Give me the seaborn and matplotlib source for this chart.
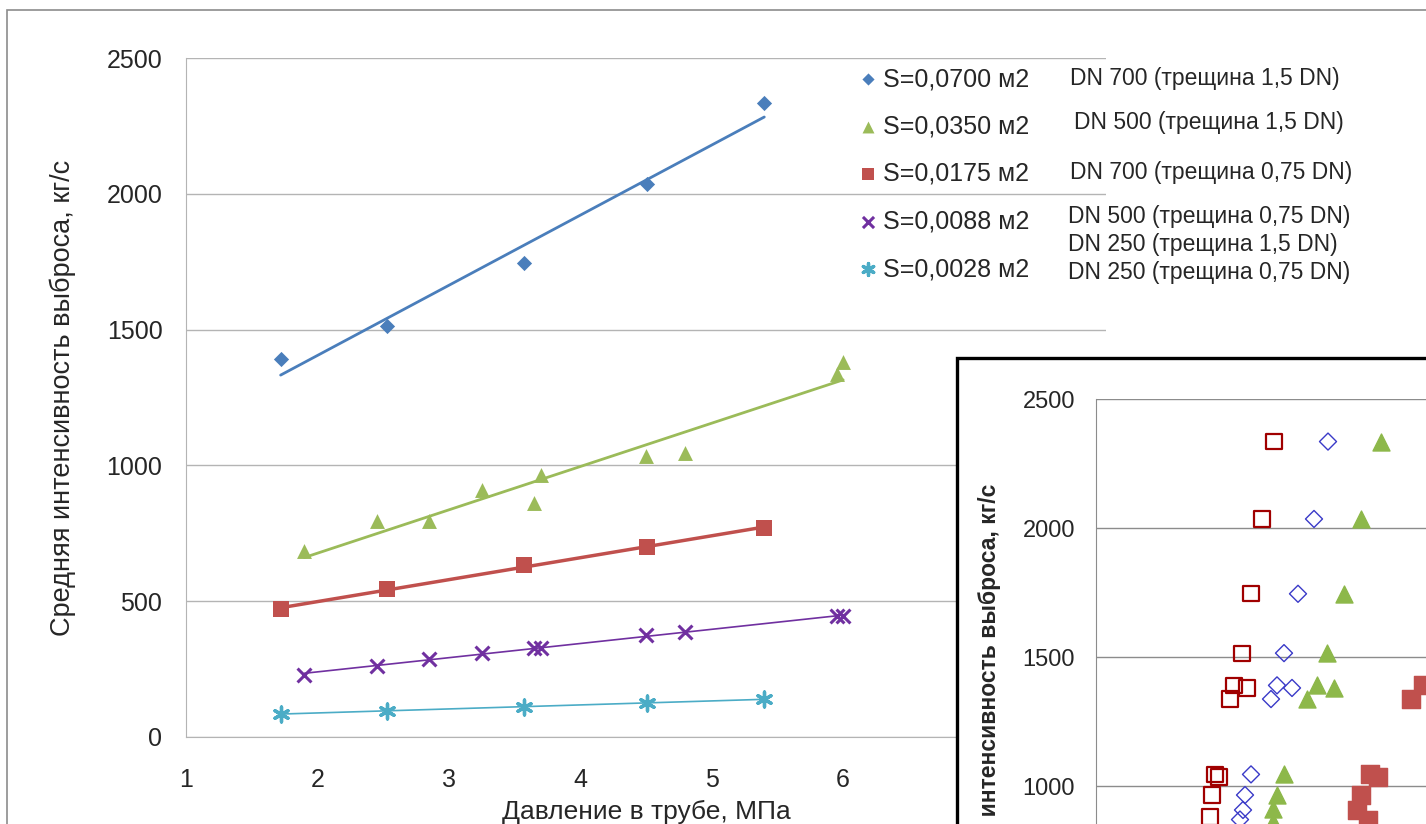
import matplotlib
matplotlib.use("Agg")
import matplotlib.pyplot as plt
import seaborn as sns
from matplotlib.patches import Rectangle

# ---- main chart data: pressure (MPa) vs mean release rate (kg/s) ----
p_s0700 = [1.72, 2.53, 3.57, 4.51, 5.40]
q_s0700 = [1390, 1515, 1745, 2035, 2335]
p_s0350 = [1.90, 2.45, 2.85, 3.25, 3.65, 3.70, 4.50, 4.80, 5.95, 6.00]
q_s0350 = [685, 795, 795, 910, 860, 965, 1035, 1045, 1337, 1380]
p_s0175 = [1.72, 2.53, 3.57, 4.51, 5.40]
q_s0175 = [470, 545, 632, 700, 770]
p_s0088 = [1.90, 2.45, 2.85, 3.25, 3.65, 3.70, 4.50, 4.80, 5.95, 6.00]
q_s0088 = [228, 262, 287, 310, 328, 328, 375, 385, 445, 445]
p_s0028 = [1.72, 2.53, 3.57, 4.51, 5.40]
q_s0028 = [85, 97, 110, 125, 140]

legend_labels = ["S=0,0700 м2", "S=0,0350 м2", "S=0,0175 м2", "S=0,0088 м2", "S=0,0028 м2"]
dn_labels = ["DN 700 (трещина 1,5 DN)", "DN 500 (трещина 1,5 DN)", "DN 700 (трещина 0,75 DN)",
             "DN 500 (трещина 0,75 DN)", "DN 250 (трещина 1,5 DN)", "DN 250 (трещина 0,75 DN)"]

# ---- inset chart data (pasted second chart, partly cut off) ----
ix_open_sq = [1.78, 1.66, 1.55, 1.46, 1.38, 1.51, 1.34, 1.19, 1.23, 1.16, 1.14]
iy_open_sq = [2335, 2035, 1745, 1515, 1390, 1380, 1337, 1045, 1035, 965, 880]
ix_diamond = [2.32, 2.18, 2.02, 1.88, 1.81, 1.96, 1.75, 1.55, 1.49, 1.47, 1.44]
iy_diamond = [2335, 2035, 1745, 1515, 1390, 1380, 1337, 1045, 965, 907, 870]
ix_triangle = [2.85, 2.65, 2.48, 2.31, 2.21, 2.38, 2.11, 1.88, 1.81, 1.77, 1.77]
iy_triangle = [2335, 2035, 1745, 1515, 1390, 1380, 1337, 1045, 965, 910, 860]
ix_fill_sq = [3.15, 3.27, 2.74, 2.82, 2.65, 2.61, 2.72]
iy_fill_sq = [1337, 1390, 1045, 1035, 965, 907, 870]

W, H = 1426, 824

def fx(px):
    return px / W

def fy(py):
    return 1 - py / H

sns.set_style("white")
plt.rcParams["font.family"] = ["Liberation Sans", "DejaVu Sans"]

fig = plt.figure(figsize=(W / 100, H / 100), dpi=100)

# outer chart border (only top and left edges fall inside the image)
fig.add_artist(Rectangle((fx(7), -0.1), 1.2, fy(10) + 0.1, transform=fig.transFigure,
                         fill=False, edgecolor="#8c8c8c", lw=1.2, zorder=0))

ax = fig.add_axes([fx(186), fy(737), fx(1106) - fx(186), fy(58) - fy(737)])

series = [
    (p_s0700, q_s0700, "#4A7EBB", "D", 60, 2.0, 0),
    (p_s0350, q_s0350, "#9BBB59", "^", 115, 2.0, 0),
    (p_s0175, q_s0175, "#C0504D", "s", 125, 2.5, 0),
    (p_s0088, q_s0088, "#7030A0", "x", 100, 1.2, 2.2),
    (p_s0028, q_s0028, "#4BACC6", (6, 2, 0), 115, 1.2, 2.4),
]
for (p, q, c, m, s, lw, mlw), lab in zip(series, legend_labels):
    sns.regplot(x=p, y=q, ax=ax, scatter=False, ci=None, color=c,
                line_kws={"lw": lw})
    sns.scatterplot(x=p, y=q, ax=ax, marker=m, s=s, color=c, edgecolor=c if mlw == 0 else None,
                    linewidth=mlw, label=lab, zorder=3)

ax.set_xlim(1, 8)
ax.set_ylim(0, 2500)
ax.set_xticks(range(1, 7))  # 7 and 8 sit under the pasted inset
ax.set_yticks(range(0, 2501, 500))
ax.yaxis.grid(True, color="#b4b4b4", lw=1.0)
for side in ["top", "right"]:
    ax.spines[side].set_visible(False)
for side in ["left", "bottom"]:
    ax.spines[side].set_color("#b4b4b4")
ax.tick_params(axis="x", length=8, width=1, color="#b4b4b4", direction="out", pad=14, labelsize=18)
ax.tick_params(axis="y", length=8, width=1, color="#b4b4b4", direction="out", pad=9, labelsize=18)
ax.set_xlabel("Давление в трубе, МПа", fontsize=19, labelpad=6)
ax.set_ylabel("Средняя интенсивность выброса, кг/с", fontsize=19.5, labelpad=22)

ax.legend(loc="upper left", bbox_to_anchor=(fx(858), fy(67)), bbox_transform=fig.transFigure,
          frameon=False, fontsize=18, borderpad=0, borderaxespad=0, handlelength=0.8,
          handletextpad=0.2, labelspacing=0.94, markerscale=0.8)

dn_pos = [(1070, 78), (1074, 122), (1070, 172), (1068, 217), (1068, 245), (1068, 273)]
for (x, y), t in zip(dn_pos, dn_labels):
    fig.text(fx(x), fy(y), t, fontsize=16.5, ha="left", va="center")

# ---- inset chart: white frame with a black border ----
fig.add_artist(Rectangle((fx(957), -0.2), 0.6, fy(358) + 0.2, transform=fig.transFigure,
                         facecolor="white", edgecolor="black", lw=2.4, zorder=5))

ax2 = fig.add_axes([fx(1096), fy(1044), 500 / W, 645 / H], zorder=6)
ax2.set_facecolor("none")
sns.scatterplot(x=ix_open_sq, y=iy_open_sq, ax=ax2, marker="s", s=120, facecolor="none",
                edgecolor="#A00000", linewidth=1.6, zorder=3)
sns.scatterplot(x=ix_diamond, y=iy_diamond, ax=ax2, marker="D", s=75, facecolor="none",
                edgecolor="#3A3AC8", linewidth=1.0, zorder=3)
sns.scatterplot(x=ix_triangle, y=iy_triangle, ax=ax2, marker="^", s=150, color="#8DB84A",
                edgecolor="#8DB84A", zorder=3)
sns.scatterplot(x=ix_fill_sq, y=iy_fill_sq, ax=ax2, marker="s", s=170, color="#C0504D",
                edgecolor="#C0504D", zorder=3)
ax2.set_xlim(0, 5)
ax2.set_ylim(0, 2500)
ax2.set_yticks(range(0, 2501, 500))
ax2.set_xticks([])
ax2.yaxis.grid(True, color="#8c8c8c", lw=1.0)
for side in ["top", "right", "bottom"]:
    ax2.spines[side].set_visible(False)
ax2.spines["left"].set_color("#8c8c8c")
ax2.tick_params(axis="y", length=8, width=1, color="#8c8c8c", direction="out", pad=7, labelsize=17)
ax2.set_ylabel("Средняя интенсивность выброса, кг/с", fontsize=16.5, fontweight="bold")
ax2.yaxis.set_label_coords(-0.19, 0.53)

fig.savefig("out.png", dpi=100)
